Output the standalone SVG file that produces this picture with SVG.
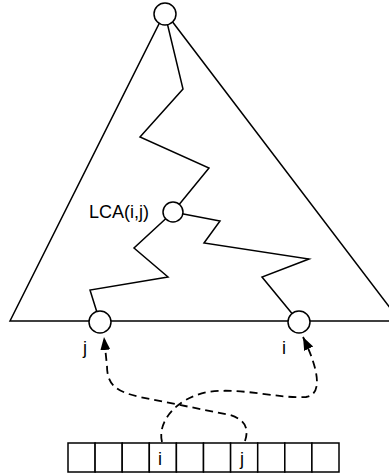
<svg xmlns="http://www.w3.org/2000/svg" width="389" height="473" viewBox="0 0 389 473">
<style>
.ln{fill:none;stroke:#000;stroke-width:1.5;stroke-linejoin:miter}
.nd{fill:#fff;stroke:#000;stroke-width:1.5}
.cell{fill:#fff;stroke:#000;stroke-width:1.5}
.dash{fill:none;stroke:#000;stroke-width:1.8;stroke-dasharray:8,5}
.t{font-family:"Liberation Sans",Arial,sans-serif;font-size:18px;fill:#000}
</style>
<defs>
<marker id="ah" markerWidth="14" markerHeight="12" refX="13" refY="5" orient="auto" markerUnits="userSpaceOnUse">
<path d="M0,0 L13,5 L0,10 Z" fill="#000"/>
</marker>
</defs>
<g id="tree">
<polyline class="ln" points="400,321 165,12 10,321 400,321"/>
</g>
<g id="connectors">
<polyline class="ln" points="165,14 183,89 140,137 209,168 173,212"/>
<polyline class="ln" points="173,212 134,248 168,277 90,290 100,322"/>
<polyline class="ln" points="173,212 220,221 204,243 309,259 262,277 299,322"/>
<path class="dash" d="M162,442 C157,422 176,398 208,392 C240,387 280,399 306,397 C322,395 320,372 303,337" marker-end="url(#ah)"/>
<path class="dash" d="M245,441 C249,429 246,420 230,415 L140,397 C118,392 107,386 107,366 L104,337" marker-end="url(#ah)"/>
</g>
<g id="root"><circle class="nd" cx="165" cy="14" r="11"/></g>
<g id="lca"><circle class="nd" cx="173" cy="212" r="10"/><text class="t" x="89" y="218">LCA(i,j)</text></g>
<g id="nodeJ"><circle class="nd" cx="100" cy="322" r="11"/><text class="t" x="83" y="354">j</text></g>
<g id="nodeI"><circle class="nd" cx="299" cy="322" r="11"/><text class="t" x="282" y="354">i</text></g>
<g id="array">
<rect class="cell" x="68" y="443" width="27.1" height="29"/>
<rect class="cell" x="95.1" y="443" width="27.1" height="29"/>
<rect class="cell" x="122.2" y="443" width="27.1" height="29"/>
<rect class="cell" x="149.3" y="443" width="27.1" height="29"/>
<rect class="cell" x="176.4" y="443" width="27.1" height="29"/>
<rect class="cell" x="203.5" y="443" width="27.1" height="29"/>
<rect class="cell" x="230.6" y="443" width="27.1" height="29"/>
<rect class="cell" x="257.7" y="443" width="27.1" height="29"/>
<rect class="cell" x="284.8" y="443" width="27.1" height="29"/>
<rect class="cell" x="311.9" y="443" width="27.1" height="29"/>
<text class="t" x="158" y="465">i</text>
<text class="t" x="240" y="465">j</text>
</g>
</svg>
